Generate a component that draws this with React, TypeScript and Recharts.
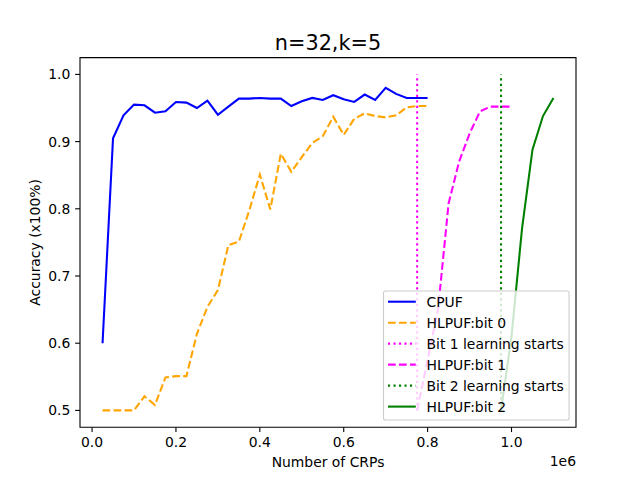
import { LineChart, Line, XAxis, YAxis, ReferenceArea } from "recharts";

// number of CRPs used for training
const crps = [
  25000, 50000, 75000, 100000, 125000, 150000, 175000, 200000,
  225000, 250000, 275000, 300000, 325000, 350000, 375000, 400000,
  425000, 450000, 475000, 500000, 525000, 550000, 575000, 600000,
  625000, 650000, 675000, 700000, 725000, 750000, 775000, 800000,
];
const cpufAcc = [
  0.6, 0.905, 0.939, 0.955, 0.954, 0.943, 0.945, 0.959,
  0.958, 0.95, 0.961, 0.94, 0.952, 0.964, 0.964, 0.965,
  0.964, 0.964, 0.953, 0.96, 0.965, 0.962, 0.969, 0.963,
  0.959, 0.97, 0.962, 0.98, 0.971, 0.965, 0.965, 0.965,
];
const bit0Acc = [
  0.5, 0.5, 0.5, 0.5, 0.521, 0.508, 0.549, 0.551,
  0.551, 0.614, 0.654, 0.679, 0.746, 0.751, 0.798, 0.851,
  0.799, 0.882, 0.855, 0.877, 0.898, 0.908, 0.937, 0.91,
  0.934, 0.942, 0.938, 0.936, 0.939, 0.951, 0.953, 0.953,
];

const bit1Crps = [775000, 800000, 825000, 850000, 875000, 900000, 925000, 950000, 975000, 1000000];
const bit1Acc = [0.5, 0.575, 0.651, 0.808, 0.87, 0.912, 0.945, 0.952, 0.952, 0.952];

const bit2Crps = [975000, 1000000, 1025000, 1050000, 1075000, 1100000];
const bit2Acc = [0.5, 0.61, 0.77, 0.888, 0.938, 0.965];

const bit1Start = 775000;
const bit2Start = 975000;
const markerRange = [0.5, 1.0];

const xTicks = [0, 200000, 400000, 600000, 800000, 1000000];
const yTicks = [0.5, 0.6, 0.7, 0.8, 0.9, 1.0];
const X_DOMAIN = [-28750, 1153750];
const Y_DOMAIN = [0.475, 1.025];

const zip = (xs: number[], ys: number[]) => xs.map((x, i) => ({ x, y: ys[i] }));
const vline = (x: number) => markerRange.map((y) => ({ x, y }));

const FONT = "DejaVu Sans";
const DASH = "7.7 3.3";
const DOT = "2.1 3.4";

const series = [
  { name: "CPUF", data: zip(crps, cpufAcc), color: "#0000ff", dash: undefined },
  { name: "HLPUF:bit 0", data: zip(crps, bit0Acc), color: "#ffa500", dash: DASH },
  { name: "Bit 1 learning starts", data: vline(bit1Start), color: "#ff00ff", dash: DOT },
  { name: "HLPUF:bit 1", data: zip(bit1Crps, bit1Acc), color: "#ff00ff", dash: DASH },
  { name: "Bit 2 learning starts", data: vline(bit2Start), color: "#008000", dash: DOT },
  { name: "HLPUF:bit 2", data: zip(bit2Crps, bit2Acc), color: "#008000", dash: undefined },
];

const tickStyle = { fill: "#000", fontSize: 13.9, fontFamily: FONT };

export default function App() {
  return (
    <div style={{ position: "absolute", left: 0, top: 0, width: 640, height: 480, background: "#fff" }}>
      <LineChart width={640} height={480} margin={{ top: 57.6, right: 64, bottom: 22.4, left: 0 }}>
        <XAxis
          dataKey="x"
          type="number"
          domain={X_DOMAIN}
          allowDataOverflow
          ticks={xTicks}
          tickFormatter={(v: number) => (v / 1e6).toFixed(1)}
          height={30.4}
          axisLine={false}
          tickLine={{ stroke: "#000", strokeWidth: 1.1 }}
          tickSize={4.86}
          tickMargin={5.4}
          tick={tickStyle}
        />
        <YAxis
          type="number"
          domain={Y_DOMAIN}
          allowDataOverflow
          ticks={yTicks}
          tickFormatter={(v: number) => v.toFixed(1)}
          width={80}
          axisLine={false}
          tickLine={{ stroke: "#000", strokeWidth: 1.1 }}
          tickSize={4.86}
          tickMargin={4.86}
          tick={tickStyle}
        />
        <ReferenceArea
          x1={X_DOMAIN[0]}
          x2={X_DOMAIN[1]}
          y1={Y_DOMAIN[0]}
          y2={Y_DOMAIN[1]}
          fill="none"
          stroke="#000"
          strokeWidth={1.1}
          ifOverflow="visible"
        />
        {series.map((s) => (
          <Line
            key={s.name}
            data={s.data}
            dataKey="y"
            name={s.name}
            type="linear"
            stroke={s.color}
            strokeWidth={2.08}
            strokeDasharray={s.dash}
            dot={false}
            activeDot={false}
            isAnimationActive={false}
          />
        ))}
        <text x={328} y={49.5} textAnchor="middle" fontSize={20.8} fontFamily={FONT} fill="#000">
          n=32,k=5
        </text>
        <text x={328} y={466.5} textAnchor="middle" fontSize={13.9} fontFamily={FONT} fill="#000">
          Number of CRPs
        </text>
        <text x={576} y={466} textAnchor="end" fontSize={13.9} fontFamily={FONT} fill="#000">
          1e6
        </text>
        <text
          x={40}
          y={242.4}
          textAnchor="middle"
          fontSize={13.9}
          fontFamily={FONT}
          fill="#000"
          transform="rotate(-90, 40, 242.4)"
        >
          Accuracy (x100%)
        </text>
      </LineChart>
      <svg width={640} height={480} style={{ position: "absolute", left: 0, top: 0, pointerEvents: "none" }}>
        <rect x={383.5} y={291} width={185.6} height={129} rx={2} fill="#fff" fillOpacity={0.8} stroke="#cccccc" strokeWidth={1.1} />
        {series.map((s, i) => {
          const cy = 301.7 + i * 20.98;
          return (
            <g key={s.name}>
              <line x1={388} x2={415.8} y1={cy} y2={cy} stroke={s.color} strokeWidth={2.08} strokeDasharray={s.dash} />
              <text x={426.5} y={cy + 5} fontSize={13.9} fontFamily={FONT} fill="#000">
                {s.name}
              </text>
            </g>
          );
        })}
      </svg>
    </div>
  );
}
